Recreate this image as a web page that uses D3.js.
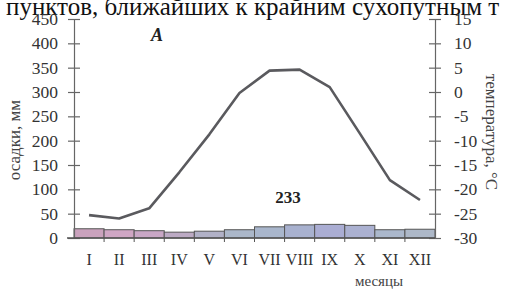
<!DOCTYPE html>
<html>
<head>
<meta charset="utf-8">
<script src="https://cdn.jsdelivr.net/npm/d3@7"></script>
<style>
  body { margin: 0; background: #fff; }
  svg, svg text { font-family: "Liberation Serif", "DejaVu Serif", serif !important; }
  svg { display: block; }
</style>
</head>
<body>
<svg id="chart" width="507" height="289"></svg>
<script>
// data
const months = ["I","II","III","IV","V","VI","VII","VIII","IX","X","XI","XII"];
const precip = [19,17,15,12,14,17,23,27,28,26,17,18];   // мм, sum 233
const temp = [-25.3,-26,-23.9,-16.5,-8.7,-0.2,4.4,4.6,1.0,-8.5,-18.1,-22.2];
const barColors = ["#caa2bd","#cfa6c4","#c9a7c6","#bcaac4","#b1b1c7","#abb7c9","#a9b6cc","#a8b1cf","#aaadd3","#abb1d1","#abb8cc","#adb8c8"];
const precipTicks = [0,50,100,150,200,250,300,350,400,450];
const tempTicks = [-30,-25,-20,-15,-10,-5,0,5,10,15];

const svg = d3.select("#chart");
const mLeft = 74, mRight = 435, mTop = 19, mBottom = 238;

let x = d3.scaleBand().domain(months).range([mLeft, mRight]).paddingInner(0).paddingOuter(0);
let yP = d3.scaleLinear().domain([0, 450]).range([mBottom, mTop]);
let yT = d3.scaleLinear().domain([-30, 15]).range([mBottom, mTop]);

// title line cut off at the top
svg.append("text")
  .attr("x", 6).attr("y", 15)
  .attr("font-size", 25).attr("fill", "#111")
  .text("пунктов, ближайших к крайним сухопутным т");

// bars
svg.append("g").selectAll("rect")
  .data(precip)
  .join("rect")
  .attr("x", (d, i) => x(months[i]))
  .attr("y", d => yP(d))
  .attr("width", x.bandwidth())
  .attr("height", d => yP(0) - yP(d))
  .attr("fill", (d, i) => barColors[i])
  .attr("stroke", "#555")
  .attr("stroke-width", 1);

// left axis
let axL = d3.axisLeft(yP).tickValues(precipTicks).tickFormat(d => String(d))
  .tickSizeInner(6).tickSizeOuter(0).tickPadding(10);
let gL = svg.append("g").attr("transform", `translate(${mLeft},0)`).call(axL);
gL.selectAll(".tick line").attr("x2", 6).attr("x1", -6);

// right axis
let axR = d3.axisRight(yT).tickValues(tempTicks).tickFormat(d => String(d))
  .tickSizeInner(6).tickSizeOuter(0).tickPadding(13);
let gR = svg.append("g").attr("transform", `translate(${mRight},0)`).call(axR);
gR.selectAll(".tick line").attr("x1", -6).attr("x2", 6);

[gL, gR].forEach(g => {
  g.attr("font-family", null);
  g.select(".domain").attr("stroke", "#666").attr("stroke-width", 1.2);
  g.selectAll(".tick line").attr("stroke", "#666").attr("stroke-width", 1.2);
  g.selectAll(".tick text").attr("font-size", 17.5).attr("fill", "#333");
});

// bottom axis
let axB = d3.axisBottom(x).tickSize(0).tickPadding(16);
let gB = svg.append("g").attr("transform", `translate(0,${mBottom})`).call(axB);
gB.attr("font-family", null);
gB.select(".domain").remove();
gB.append("line").attr("x1", mLeft - 7).attr("x2", mRight).attr("stroke", "#555").attr("stroke-width", 1.5);
gB.selectAll(".tick text").attr("font-size", 16).attr("fill", "#333");
// small ticks at bar boundaries
gB.selectAll(".sep")
  .data(months.slice(1))
  .join("line")
  .attr("x1", d => x(d)).attr("x2", d => x(d))
  .attr("y1", 0).attr("y2", 4)
  .attr("stroke", "#555");

// temperature line
let line = d3.line()
  .x((d, i) => x(months[i]) + x.bandwidth() / 2)
  .y(d => yT(d));
svg.append("path")
  .datum(temp)
  .attr("d", line)
  .attr("fill", "none")
  .attr("stroke", "#5a5a5e")
  .attr("stroke-width", 2.6)
  .attr("stroke-linejoin", "round");

// labels
svg.append("text")
  .attr("transform", "translate(20,140) rotate(-90)")
  .attr("text-anchor", "middle").attr("font-size", 17).attr("fill", "#444")
  .text("осадки, мм");
svg.append("text")
  .attr("transform", "translate(486,132) rotate(90)")
  .attr("text-anchor", "middle").attr("font-size", 17).attr("fill", "#444")
  .text("температура, °С");
svg.append("text")
  .attr("x", 151).attr("y", 41)
  .attr("font-size", 18).attr("font-weight", "bold").attr("font-style", "italic")
  .attr("fill", "#222")
  .text("A");
svg.append("text")
  .attr("x", 288).attr("y", 203)
  .attr("text-anchor", "middle")
  .attr("font-size", 17).attr("font-weight", "bold").attr("fill", "#222")
  .text(d3.sum(precip));
svg.append("text")
  .attr("x", 379).attr("y", 286)
  .attr("text-anchor", "middle").attr("font-size", 15).attr("fill", "#444")
  .text("месяцы");
</script>
</body>
</html>
